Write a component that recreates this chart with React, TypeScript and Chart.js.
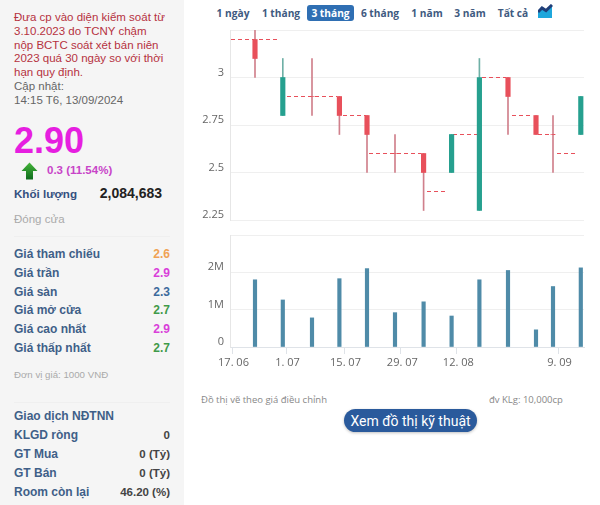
import React, { useEffect, useRef } from "react";
import { Chart, registerables } from "chart.js";

Chart.register(...registerables);

// Session positions on the time axis, in calendar days after 17.06
const sessionDays = [5.75, 12.7, 20, 26.85, 33.75, 40.75, 47.9, 54.9, 61.85, 69, 76, 80.25, 87.2];
const opens = [3.2, 2.8, 2.9, 2.9, 2.8, 2.6, 2.6, 2.5, 2.3, 3.0, 2.8, 2.7, 2.7];
const closes = [3.1, 3.0, 2.9, 2.8, 2.7, 2.6, 2.5, 2.7, 3.0, 2.9, 2.7, 2.7, 2.9];
const highs = [3.25, 3.1, 3.1, 2.9, 2.8, 2.7, 2.6, 2.7, 3.1, 3.0, 2.8, 2.8, 2.9];
const lows = [3.0, 2.8, 2.8, 2.7, 2.5, 2.5, 2.3, 2.5, 2.3, 2.7, 2.7, 2.5, 2.7];
const volumes = [1.8, 1.26, 0.78, 1.83, 2.1, 0.92, 1.21, 0.83, 1.8, 2.05, 0.46, 1.62, 2.12];

// Dashed reference levels
const dashLevels = [3.2, 2.9, 2.8, 2.6, 2.4, 2.7, 3.0, 2.8, 2.7, 2.6];
const dashFrom = [-0.25, 13.75, 27.75, 34.25, 48.75, 55.25, 62.5, 70, 76.5, 81.25];
const dashTo = [12, 26.25, 33.5, 47.25, 54, 61.25, 68.5, 75.25, 80.75, 86.25];

const dateTickDays = [0, 13.5, 28, 42.2, 56.2, 81.5];
const dateTickLabels = ["17. 06", "1. 07", "15. 07", "29. 07", "12. 08", "9. 09"];
const priceTicks = [2.25, 2.5, 2.75, 3, 3.25];
const volumeTicks = [0, 1, 2, 3];

const rangeButtons = ["1 ngày", "1 tháng", "3 tháng", "6 tháng", "1 năm", "3 năm", "Tất cả"];
const rangeCenters = [233, 281, 330.5, 380, 427, 470, 513];
const noteLines = [
  "Đưa cp vào diện kiểm soát từ",
  "3.10.2023 do TCNY chậm",
  "nộp BCTC soát xét bán niên",
  "2023 quá 30 ngày so với thời",
  "hạn quy định.",
];
const priceRows: [string, string, string][] = [
  ["Giá tham chiếu", "2.6", "#f0a254"],
  ["Giá trần", "2.9", "#d93fd9"],
  ["Giá sàn", "2.3", "#3c6a9c"],
  ["Giá mở cửa", "2.7", "#3f9a49"],
  ["Giá cao nhất", "2.9", "#d93fd9"],
  ["Giá thấp nhất", "2.7", "#3f9a49"],
];
const foreignRows: [string, string][] = [
  ["KLGD ròng", "0"],
  ["GT Mua", "0 (Tỷ)"],
  ["GT Bán", "0 (Tỷ)"],
  ["Room còn lại", "46.20 (%)"],
];

const RED = "#e8505b";
const GREEN = "#26a08f";
const RED_WICK = "#d0808c";
const GREEN_WICK = "#6fb0a6";
const GRID = "#efefef";
const AXIS_FONT = { family: "'Open Sans'", size: 11 };
const X_MIN = -0.5;
const X_MAX = 88;

const isUp = (i: number) => closes[i] > opens[i];
const isFlat = (i: number) => closes[i] === opens[i];

function noPad(scale: any) {
  scale.paddingTop = 0;
  scale.paddingBottom = 0;
  scale.paddingLeft = 0;
  scale.paddingRight = 0;
}
function yFit(scale: any) {
  scale.width = 40;
  noPad(scale);
}

const T: React.FC<{ x: number; y: number; s: React.CSSProperties; right?: boolean; center?: boolean; children: any }> = ({ x, y, s, right, center, children }) => (
  <div
    style={{
      position: "absolute",
      top: y,
      lineHeight: "0px",
      whiteSpace: "nowrap",
      fontFamily: "'Liberation Sans'",
      ...(right ? { right: 600 - x } : { left: x }),
      ...(center ? { transform: "translateX(-50%)" } : {}),
      ...s,
    }}
  >
    {children}
  </div>
);

export default function App() {
  const priceRef = useRef<HTMLCanvasElement>(null);
  const volumeRef = useRef<HTMLCanvasElement>(null);

  useEffect(() => {
    const dashData: any[] = [];
    dashLevels.forEach((lvl, i) => {
      dashData.push({ x: dashFrom[i], y: lvl }, { x: dashTo[i], y: lvl }, { x: dashTo[i], y: null });
    });
    const price = new Chart(priceRef.current!, {
      type: "bar",
      data: {
        datasets: [
          {
            label: "Bóng nến",
            data: sessionDays.map((d, i) => ({ x: d, y: [lows[i], highs[i]] })),
            backgroundColor: sessionDays.map((_, i) => (isUp(i) ? GREEN_WICK : RED_WICK)),
            barThickness: 1,
            grouped: false,
            order: 2,
          } as any,
          {
            label: "Thân nến",
            data: sessionDays.map((d, i) => ({
              x: d,
              y: isFlat(i) ? [opens[i], opens[i]] : [Math.min(opens[i], closes[i]), Math.max(opens[i], closes[i])],
            })),
            backgroundColor: sessionDays.map((_, i) => (isUp(i) ? GREEN : RED)),
            barThickness: 4.5,
            grouped: false,
            order: 1,
          } as any,
          {
            type: "line",
            label: "Mức",
            data: dashData,
            borderColor: RED,
            backgroundColor: RED,
            borderWidth: 1,
            borderDash: [4, 3],
            pointRadius: 0,
            fill: false,
            spanGaps: false,
            order: 3,
          } as any,
        ],
      },
      options: {
        animation: false,
        responsive: false,
        layout: { padding: { left: 0, right: 6, top: 5, bottom: 5 } },
        plugins: { legend: { display: false }, tooltip: { enabled: false } },
        scales: {
          x: { type: "linear", min: X_MIN, max: X_MAX, display: false, offset: false },
          y: {
            type: "linear",
            min: 2.25,
            max: 3.25,
            afterFit: yFit,
            afterBuildTicks: (s: any) => {
              s.ticks = priceTicks.map((value) => ({ value }));
            },
            border: { color: "#e6e6e6" },
            grid: { color: GRID, drawTicks: false },
            ticks: {
              font: AXIS_FONT,
              color: "#666",
              padding: 6,
              labelOffset: -5,
              callback: (v: any) => (v === 3.25 ? "" : String(v)),
            },
          },
        },
      },
    } as any);

    const volume = new Chart(volumeRef.current!, {
      type: "bar",
      data: {
        datasets: [
          {
            label: "Khối lượng",
            data: sessionDays.map((d, i) => ({ x: d, y: volumes[i] })),
            backgroundColor: "#4f8ba8",
            barThickness: 3.5,
          } as any,
        ],
      },
      options: {
        animation: false,
        responsive: false,
        layout: { padding: { left: 0, right: 6, top: 5, bottom: 0 } },
        plugins: { legend: { display: false }, tooltip: { enabled: false } },
        scales: {
          x: {
            type: "linear",
            min: X_MIN,
            max: X_MAX,
            offset: false,
            afterFit: (s: any) => {
              s.height = 28;
              noPad(s);
            },
            afterBuildTicks: (s: any) => {
              s.ticks = dateTickDays.map((value) => ({ value }));
            },
            border: { color: "#dfe3e8" },
            grid: { drawOnChartArea: false, offset: false, color: "#dfe3e8", tickLength: 7 },
            ticks: {
              font: AXIS_FONT,
              color: "#666",
              padding: 2,
              labelOffset: 1.5,
              maxRotation: 0,
              autoSkip: false,
              align: "center",
              callback: (_v: any, i: number) => dateTickLabels[i],
            },
          },
          y: {
            type: "linear",
            min: 0,
            max: 3,
            afterFit: yFit,
            afterBuildTicks: (s: any) => {
              s.ticks = volumeTicks.map((value) => ({ value }));
            },
            border: { color: "#e6e6e6" },
            grid: { color: GRID, drawTicks: false },
            ticks: {
              font: AXIS_FONT,
              color: "#666",
              padding: 6,
              labelOffset: -5,
              callback: (v: any) => (v === 0 ? "0" : v === 3 ? "" : v + "M"),
            },
          },
        },
      },
    } as any);
    return () => {
      price.destroy();
      volume.destroy();
    };
  }, []);

  const label: React.CSSProperties = { fontSize: 12, fontWeight: 700, color: "#3f5f88" };
  const bold: React.CSSProperties = { fontSize: 11.5, fontWeight: 700 };

  return (
    <div style={{ position: "absolute", left: 0, top: 0, width: 600, height: 505, overflow: "hidden", background: "#fff" }}>
      <div style={{ position: "absolute", left: 0, top: 0, width: 184, height: 505, background: "#f5f5f5" }} />
      {noteLines.map((l, i) => (
        <T key={l} x={14} y={17 + i * 13.8} s={{ fontSize: 11.5, color: "#b5323f" }}>
          {l}
        </T>
      ))}
      <T x={14} y={86} s={{ fontSize: 11.5, color: "#666" }}>Cập nhật:</T>
      <T x={14} y={100} s={{ fontSize: 11.5, color: "#666" }}>14:15 T6, 13/09/2024</T>
      <T x={14} y={141} s={{ fontSize: 36, fontWeight: 700, color: "#e61fe0" }}>2.90</T>
      <svg style={{ position: "absolute", left: 21, top: 162 }} width={17} height={18} viewBox="0 0 17 18">
        <defs>
          <linearGradient id="arrowFill" x1="0" y1="0" x2="0" y2="1">
            <stop offset="0" stopColor="#45b53a" />
            <stop offset="1" stopColor="#0d6b1c" />
          </linearGradient>
        </defs>
        <polygon points="8.5,0.5 16.5,9 12,9 12,17.5 5,17.5 5,9 0.5,9" fill="url(#arrowFill)" />
      </svg>
      <T x={47} y={170} s={{ fontSize: 11.5, fontWeight: 700, color: "#c844c8" }}>0.3 (11.54%)</T>
      <T x={14} y={194} s={{ fontSize: 11.6, fontWeight: 700, color: "#33507f" }}>Khối lượng</T>
      <T x={162} y={193} right s={{ fontSize: 14, fontWeight: 700, color: "#222" }}>2,084,683</T>
      <T x={14} y={219} s={{ fontSize: 11.5, color: "#aaa" }}>Đóng cửa</T>
      <div style={{ position: "absolute", left: 14, top: 236, width: 156, height: 1, background: "#efefef" }} />
      {priceRows.map(([a, b, c], i) => (
        <React.Fragment key={a}>
          <T x={14} y={254 + i * 18.8} s={label}>{a}</T>
          <T x={170} y={254 + i * 18.8} right s={{ fontSize: 12, fontWeight: 700, color: c }}>{b}</T>
        </React.Fragment>
      ))}
      <T x={14} y={375} s={{ fontSize: 9.7, color: "#aaa" }}>Đơn vị giá: 1000 VNĐ</T>
      <div style={{ position: "absolute", left: 14, top: 402, width: 156, height: 1, background: "#efefef" }} />
      <T x={14} y={416} s={label}>Giao dịch NĐTNN</T>
      {foreignRows.map(([a, b], i) => (
        <React.Fragment key={a}>
          <T x={14} y={435 + i * 19} s={label}>{a}</T>
          <T x={170} y={435 + i * 19} right s={{ ...bold, color: "#444" }}>{b}</T>
        </React.Fragment>
      ))}

      <div style={{ position: "absolute", left: 307, top: 5, width: 47, height: 16, borderRadius: 3, background: "#2f6fb3" }} />
      {rangeButtons.map((b, i) => (
        <T key={b} x={rangeCenters[i]} y={12.5} center s={{ fontSize: 10.2, fontWeight: 700, fontFamily: "'Open Sans'", color: i === 2 ? "#fff" : "#3f5a80" }}>
          {b}
        </T>
      ))}
      <svg style={{ position: "absolute", left: 538, top: 4 }} width={15} height={14} viewBox="0 0 15 14">
        <polygon points="0,14 0,7 4,4 8,6 14,1 14,14" fill="#1ea7dc" />
        <polyline points="0,8 4,4 8,6.5 14,1" fill="none" stroke="#1f3f7a" strokeWidth={3} />
      </svg>

      <canvas ref={priceRef} width={400} height={200} style={{ position: "absolute", left: 190, top: 25, width: 400, height: 200 }} />
      <canvas ref={volumeRef} width={400} height={145} style={{ position: "absolute", left: 190, top: 230, width: 400, height: 145 }} />

      <T x={201} y={400} s={{ fontSize: 9.5, fontFamily: "'Open Sans'", color: "#888" }}>Đồ thị vẽ theo giá điều chỉnh</T>
      <T x={489} y={400} s={{ fontSize: 9.5, fontFamily: "'Open Sans'", color: "#888" }}>đv KLg: 10,000cp</T>
      <div style={{ position: "absolute", left: 344, top: 409, width: 133, height: 23, borderRadius: 12, background: "#2a5a9c", boxShadow: "0 1px 3px rgba(0,0,0,0.25)" }} />
      <T x={410.5} y={421} center s={{ fontSize: 14, color: "#fff", fontFamily: "Roboto" }}>Xem đồ thị kỹ thuật</T>
    </div>
  );
}
